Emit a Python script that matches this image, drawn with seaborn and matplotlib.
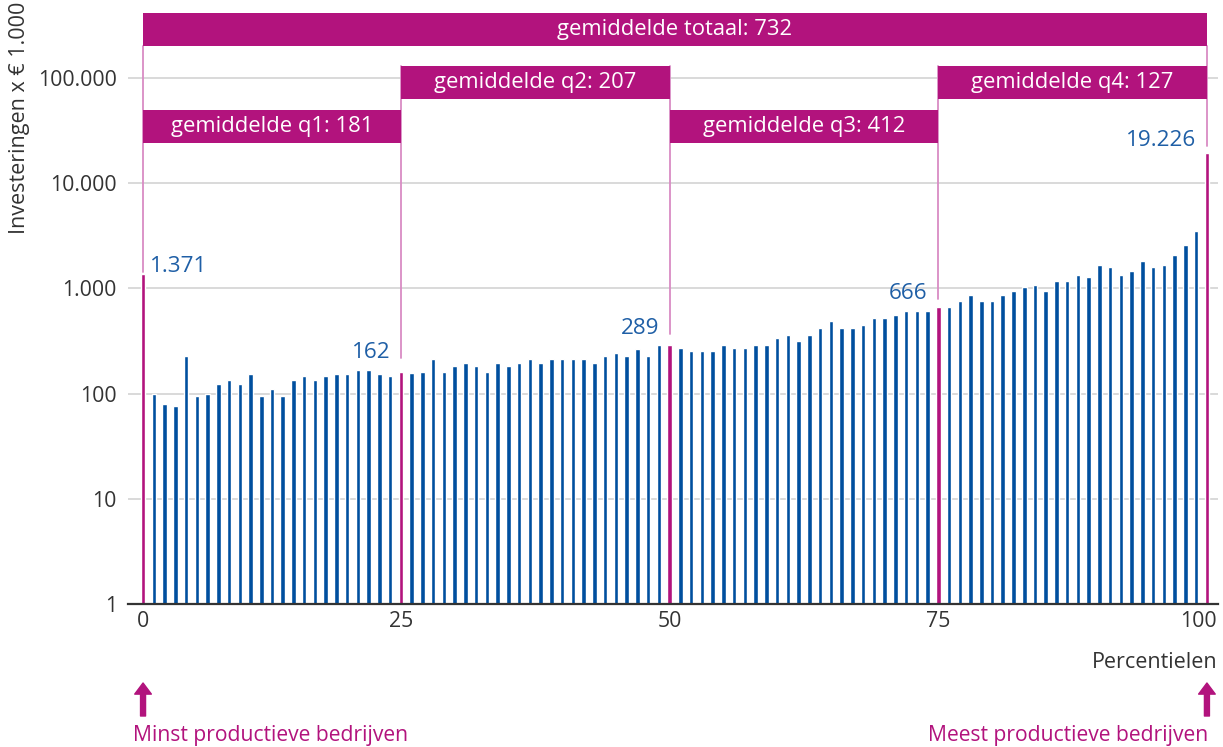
import numpy as np
import pandas as pd
import seaborn as sns
import matplotlib
matplotlib.use("Agg")
import matplotlib.pyplot as plt
import matplotlib.transforms as mtransforms
from matplotlib.patches import Rectangle

# ---------------- data ----------------
percentiles = list(range(1, 101))
investeringen = [
    1371, 100, 80, 76, 226, 94, 100, 124, 136, 124,
    155, 94, 110, 94, 136, 147, 136, 147, 155, 155,
    167, 167, 155, 147, 162, 156, 162, 212, 162, 182,
    194, 182, 162, 194, 182, 194, 212, 194, 212, 212,
    212, 212, 194, 226, 242, 226, 264, 226, 289, 289,
    270, 253, 253, 253, 289, 270, 270, 289, 289, 337,
    360, 316, 360, 420, 490, 420, 420, 448, 523, 523,
    558, 610, 610, 610, 666, 666, 764, 871, 764, 764,
    871, 950, 1023, 1084, 950, 1183, 1183, 1349, 1273, 1679,
    1584, 1349, 1472, 1832, 1584, 1679, 2089, 2596, 3524, 19226,
]
grens_percentielen = [1, 25, 50, 75, 100]
grens_labels = ["1.371", "162", "289", "666", "19.226"]
kwartiel_labels = ["gemiddelde q1: 181", "gemiddelde q2: 207",
                   "gemiddelde q3: 412", "gemiddelde q4: 127"]
totaal_label = "gemiddelde totaal: 732"
xtick_labels = ["0", "25", "50", "75", "100"]
ytick_values = [1, 10, 100, 1000, 10000, 100000]
ytick_labels = ["1", "10", "100", "1.000", "10.000", "100.000"]

# ---------------- style ----------------
MAGENTA = "#B2137D"
LIGHTMAG = "#D98BC4"
BLUE = "#004F9E"
LABELBLUE = "#1F5FA6"
GREY = "#333333"
GRID = "#D3D3D3"

sns.set_theme(style="white")
plt.rcParams["font.family"] = ["Open Sans", "DejaVu Sans"]

df = pd.DataFrame({"percentiel": percentiles, "waarde": investeringen})
df["soort"] = np.where(df["percentiel"].isin(grens_percentielen), "grens", "overig")

fig = plt.figure(figsize=(12.23, 7.47), dpi=100)
W, H = 1223, 747
# axes pixel box: left 128, right 1218, top 13, bottom 604
ax = fig.add_axes([128 / W, 1 - 604 / H, (1218 - 128) / W, (604 - 13) / H])

sns.barplot(data=df, x="percentiel", y="waarde", hue="soort",
            palette={"grens": MAGENTA, "overig": BLUE}, order=percentiles,
            dodge=False, width=0.42, legend=False, ax=ax, saturation=1,
            zorder=3)
ax.set_yscale("log")
log_hi = 5 + 65 / 105.2
ax.set_ylim(1, 10 ** log_hi)
ax.set_xlim(-1.40, 100.03)

# grid / spines
ax.set_yticks(ytick_values)
ax.set_yticklabels(ytick_labels)
ax.yaxis.set_minor_locator(matplotlib.ticker.NullLocator())
ax.grid(axis="y", color=GRID, linewidth=1.2, zorder=0)
ax.grid(axis="x", visible=False)
for s in ["left", "right", "top"]:
    ax.spines[s].set_visible(False)
ax.spines["bottom"].set_color(GREY)
ax.spines["bottom"].set_linewidth(1.6)
ax.spines["bottom"].set_zorder(5)
ax.tick_params(axis="both", length=0, labelsize=15.3, labelcolor=GREY)
ax.tick_params(axis="y", pad=8)
ax.tick_params(axis="x", pad=5)

idx = [p - 1 for p in grens_percentielen]
ax.set_xticks(idx)
ax.set_xticklabels(xtick_labels)
last = ax.get_xticklabels()[-1]
last.set_ha("right")
last.set_transform(last.get_transform() + mtransforms.ScaledTranslation(10 / 100, 0, fig.dpi_scale_trans))

ax.set_xlabel("")
ax.set_ylabel("")
fig.text(20 / W, 1 - 2 / H, "Investeringen x € 1.000", rotation=90, ha="center", va="top",
         fontsize=15.5, color=GREY)

blend = mtransforms.blended_transform_factory(ax.transData, ax.transAxes)

def frac(ypix):
    return (604 - ypix) / (604 - 13)

# boxes
box_rows = {"totaal": (45.7, 13), "hoog": (99, 66), "laag": (143, 110)}
def draw_box(x0, x1, row, text):
    yb, yt = box_rows[row]
    ax.add_patch(Rectangle((x0, frac(yb)), x1 - x0, frac(yt) - frac(yb), transform=blend,
                           facecolor=MAGENTA, edgecolor="none", zorder=6, clip_on=False))
    ax.text((x0 + x1) / 2, (frac(yb) + frac(yt)) / 2, text, transform=blend, ha="center",
            va="center", color="white", fontsize=15.8, zorder=7)

draw_box(idx[0], idx[-1], "totaal", totaal_label)
rows = ["laag", "hoog", "laag", "hoog"]
for i in range(4):
    draw_box(idx[i], idx[i + 1], rows[i], kwartiel_labels[i])

# connector lines and value labels
gap_px = [2, 14, 11, 8, 7]
line_top = [45.7, 66, 66, 66, 45.7]
for k, (i, lab) in enumerate(zip(idx, grens_labels)):
    v = investeringen[i]
    ybase = v * 10 ** (gap_px[k] / 105.2)
    ytop = 10 ** (log_hi * frac(line_top[k]))
    ax.plot([i, i], [ybase, ytop], color=LIGHTMAG, linewidth=1.3, zorder=4, clip_on=False)
    if k == 0:
        ax.annotate(lab, (i, ybase), xytext=(5, 0), textcoords="offset points",
                    ha="left", va="baseline", color=LABELBLUE, fontsize=16.2)
    else:
        ax.annotate(lab, (i, ybase), xytext=(-7.5, 0), textcoords="offset points",
                    ha="right", va="baseline", color=LABELBLUE, fontsize=16.2)

# bottom texts
ax.text(100.03, frac(663), "Percentielen", transform=blend, ha="right", va="center",
        fontsize=15.5, color=GREY)
for x in [idx[0], idx[-1]]:
    ax.annotate("", xy=(x, frac(683)), xytext=(x, frac(716)), xycoords=blend, textcoords=blend,
                arrowprops=dict(width=3.6, headwidth=12, headlength=8, color=MAGENTA,
                                shrink=0), annotation_clip=False)
ax.text(-0.93, frac(735), "Minst productieve bedrijven", transform=blend, ha="left",
        va="center", fontsize=15.2, color=MAGENTA)
ax.text(99.1, frac(735), "Meest productieve bedrijven", transform=blend, ha="right",
        va="center", fontsize=15.2, color=MAGENTA)

fig.savefig("out.png", dpi=100)
